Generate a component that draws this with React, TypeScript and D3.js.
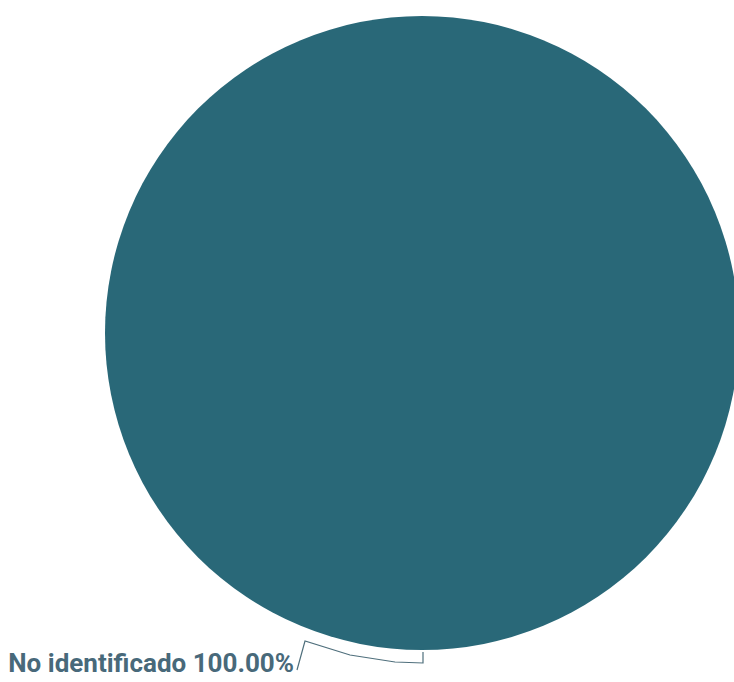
import React from "react";
import * as d3 from "d3";

const categories = ["No identificado"];
const values = [100];
const colors = ["#296878"];

const W = 734;
const H = 682;

export default function App() {
  const cx = 422;
  const cy = 333;
  const r = 317;
  const total = d3.sum(values);
  const pie = d3.pie<number>().sort(null).startAngle(Math.PI).endAngle(Math.PI * 3)(values);
  const arc = d3.arc<d3.PieArcDatum<number>>().innerRadius(0).outerRadius(r);
  // leader line anchored at bottom of the pie
  const bx = cx + 1;
  const by = cy + r;
  const leader = d3.line().curve(d3.curveLinear)([
    [bx, by + 2],
    [bx, by + 13],
    [bx - 28, by + 12],
    [bx - 73, by + 5],
    [bx - 118, by - 9],
    [bx - 126, by + 20],
  ]);
  return (
    <svg
      width={W}
      height={H}
      style={{ display: "block", position: "fixed", left: 0, top: 0 }}
    >
      <rect width={W} height={H} fill="#fff" />
      <g transform={`translate(${cx},${cy})`}>
        {pie.map((d, i) => (
          <path key={i} d={arc(d) || ""} fill={colors[i]} />
        ))}
      </g>
      <path d={leader || ""} fill="none" stroke="#4f6f7c" strokeWidth={1.2} />
      <text
        x={bx - 129}
        y={by + 22}
        textAnchor="end"
        fontFamily="Roboto"
        fontWeight={700}
        fontSize={26}
        fill="#48697a"
      >
        {`${categories[0]} ${((values[0] / total) * 100).toFixed(2)}%`}
      </text>
    </svg>
  );
}
